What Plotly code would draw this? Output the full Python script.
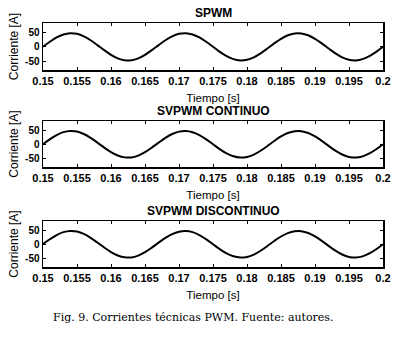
import plotly.graph_objects as go
from plotly.subplots import make_subplots

# Time samples [s]
tiempo = [0.150, 0.151, 0.152, 0.153, 0.154, 0.155, 0.156, 0.157, 0.158, 0.159,
          0.160, 0.161, 0.162, 0.163, 0.164, 0.165, 0.166, 0.167, 0.168, 0.169,
          0.170, 0.171, 0.172, 0.173, 0.174, 0.175, 0.176, 0.177, 0.178, 0.179,
          0.180, 0.181, 0.182, 0.183, 0.184, 0.185, 0.186, 0.187, 0.188, 0.189,
          0.190, 0.191, 0.192, 0.193, 0.194, 0.195, 0.196, 0.197, 0.198, 0.199,
          0.200]

# Currents [A]
corriente_spwm = [0.0, 17.3, 32.2, 42.5, 46.9, 44.7, 36.2, 22.6, 5.9, -11.7,
                  -27.6, -39.7, -46.2, -46.2, -39.7, -27.6, -11.7, 5.9, 22.6, 36.2,
                  44.7, 46.9, 42.5, 32.2, 17.3, 0.0, -17.3, -32.2, -42.5, -46.9,
                  -44.7, -36.2, -22.6, -5.9, 11.7, 27.6, 39.7, 46.2, 46.2, 39.7,
                  27.6, 11.7, -5.9, -22.6, -36.2, -44.7, -46.9, -42.5, -32.2, -17.3,
                  0.0]
corriente_svpwm_cont = [0.5, 17.5, 32.4, 42.7, 47.0, 44.8, 36.3, 22.7, 6.0, -11.6,
                        -27.5, -39.6, -46.1, -46.2, -39.8, -27.7, -11.8, 5.8, 22.5, 36.1,
                        44.6, 46.9, 42.6, 32.3, 17.4, 0.1, -17.2, -32.1, -42.4, -46.8,
                        -44.7, -36.3, -22.7, -6.0, 11.6, 27.5, 39.6, 46.1, 46.2, 39.8,
                        27.7, 11.8, -5.8, -22.5, -36.1, -44.6, -46.9, -42.6, -32.3, -17.4,
                        0.2]
corriente_svpwm_disc = [0.8, 17.6, 32.5, 42.8, 47.1, 44.9, 36.4, 22.8, 6.1, -11.5,
                        -27.4, -39.5, -46.0, -46.3, -39.9, -27.8, -11.9, 5.7, 22.4, 36.0,
                        44.5, 46.8, 42.7, 32.4, 17.5, 0.2, -17.1, -32.0, -42.3, -46.7,
                        -44.8, -36.4, -22.8, -6.1, 11.5, 27.4, 39.5, 46.0, 46.3, 39.9,
                        27.8, 11.9, -5.7, -22.4, -36.0, -44.5, -46.8, -42.7, -32.4, -17.5,
                        0.3]

titulos = ["SPWM", "SVPWM CONTINUO", "SVPWM DISCONTINUO"]
series = [corriente_spwm, corriente_svpwm_cont, corriente_svpwm_disc]
x_ticks = [0.15, 0.155, 0.16, 0.165, 0.17, 0.175, 0.18, 0.185, 0.19, 0.195, 0.2]
x_tick_labels = ["0.15", "0.155", "0.16", "0.165", "0.17", "0.175", "0.18", "0.185", "0.19", "0.195", "0.2"]
y_ticks = [-50, 0, 50]
y_tick_labels = ["-50", "0", "50"]
x_label = "Tiempo [s]"
y_label = "Corriente [A]"
caption = "Fig. 9. Corrientes técnicas PWM. Fuente: autores."

W, H = 400, 338
ml, mr, mt, mb = 43, 17, 23, 71
ph = H - mt - mb
pw = W - ml - mr
# pixel boxes (top, bottom) of the three panels
boxes = [(23, 70), (121, 167), (221, 267)]
domains = [[(H - mb - b) / ph, (H - mb - t) / ph] for t, b in boxes]

fig = make_subplots(rows=3, cols=1)
sans = "Liberation Sans, Arial, sans-serif"
for i, (ys, tit) in enumerate(zip(series, titulos)):
    r = i + 1
    fig.add_trace(go.Scatter(x=tiempo, y=ys, mode="lines", line=dict(color="black", width=2, shape="spline"),
                             showlegend=False, hoverinfo="skip"), row=r, col=1)
    fig.update_xaxes(range=[0.15, 0.2], tickvals=x_ticks, ticktext=x_tick_labels,
                     ticks="inside", ticklen=3, tickcolor="black", mirror="ticks",
                     showline=True, linecolor="black", linewidth=1.5, showgrid=False, zeroline=False,
                     automargin=False,
                     tickfont=dict(family=sans, size=11, color="black", weight="bold"),
                     title=dict(text=x_label, font=dict(family=sans, size=11.5, color="black"), standoff=8),
                     row=r, col=1)
    fig.update_yaxes(range=[-80, 82], tickvals=y_ticks, ticktext=y_tick_labels,
                     ticks="inside", ticklen=3, tickcolor="black", mirror="ticks",
                     showline=True, linecolor="black", linewidth=1.5, showgrid=False, zeroline=False,
                     automargin=False,
                     tickfont=dict(family=sans, size=10, color="black", weight="bold"),
                     title=dict(text=y_label, font=dict(family=sans, size=12, color="black"), standoff=4),
                     domain=domains[i], row=r, col=1)
    fig.add_annotation(text="<b>" + tit + "</b>", x=0.5, xref="paper", y=domains[i][1], yref="paper",
                       yanchor="bottom", yshift=1, showarrow=False,
                       font=dict(family=sans, size=12, color="black"))

fig.add_annotation(text=caption, xref="paper", x=(193 - ml) / pw, y=0, yref="paper", showarrow=False,
                   xanchor="center", yanchor="middle", yshift=-(317 - 267),
                   font=dict(family="DejaVu Serif, serif", size=11, color="black"))

fig.update_layout(width=W, height=H, margin=dict(l=ml, r=mr, t=mt, b=mb, autoexpand=False),
                  plot_bgcolor="white", paper_bgcolor="white", hovermode=False)
fig.write_html("out.html", config={"displayModeBar": False, "staticPlot": True},
               post_script="document.body.style.margin='0';document.body.style.overflow='hidden';")
